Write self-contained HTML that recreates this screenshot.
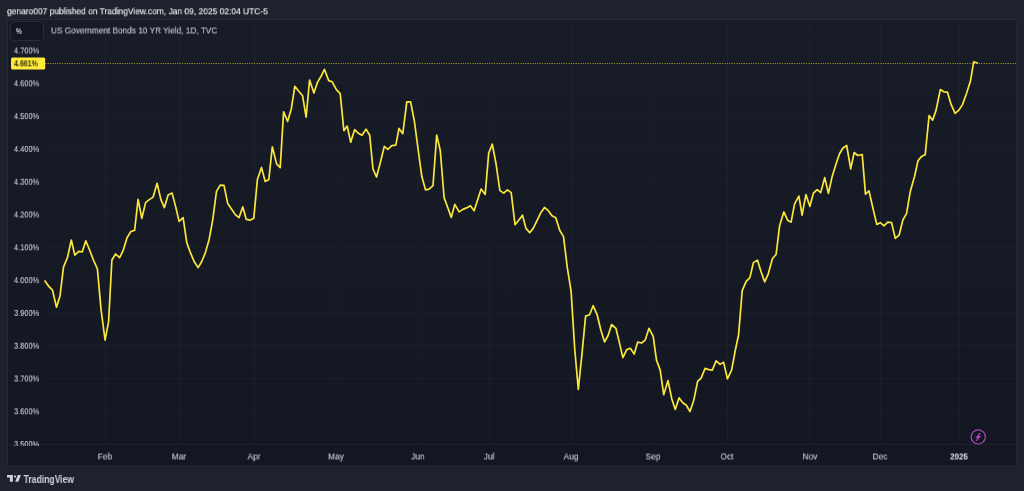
<!DOCTYPE html>
<html><head><meta charset="utf-8">
<style>
html,body{margin:0;padding:0;}
#hdr,.yl,.xl,#lg,#pl span,#pct span,#foot{will-change:transform;}
body{width:1024px;height:491px;background:#1e222d;overflow:hidden;position:relative;font-family:"Liberation Sans",sans-serif;}
#hdr{position:absolute;left:7px;top:5px;font-size:9.4px;line-height:12px;color:#e6e8ee;text-shadow:0 0 0.6px rgba(230,232,238,0.7);white-space:nowrap;transform:translateY(0.3px) scaleX(0.899);transform-origin:0 50%;}
svg{position:absolute;left:0;top:0;}
.yl{position:absolute;left:14px;font-size:9.5px;line-height:11px;color:#c1c4cd;text-shadow:0 0 0.6px rgba(193,196,205,0.6);white-space:nowrap;transform:scaleX(0.78);transform-origin:0 50%;}
.xl{position:absolute;top:451px;width:40px;margin-left:-20px;text-align:center;font-size:9.5px;line-height:12px;color:#c1c4cd;text-shadow:0 0 0.6px rgba(193,196,205,0.6);white-space:nowrap;transform:translateY(-0.5px) scaleX(0.88);}
.xl.b{font-weight:bold;color:#d1d4dc;transform:translateY(-0.5px) scaleX(0.84);}
#pct{position:absolute;left:10px;top:21px;width:32px;height:18px;border:1px solid #2a2e39;border-radius:4px;background:#131722;}
#pct span{position:absolute;left:5px;top:4px;font-size:9px;line-height:11px;color:#d1d4dc;font-weight:bold;transform:scaleX(0.72);transform-origin:0 50%;}
#lg{position:absolute;left:51px;top:25px;font-size:9.3px;line-height:12px;color:#c1c4cd;text-shadow:0 0 0.6px rgba(193,196,205,0.6);white-space:nowrap;transform:translateY(-0.5px) scaleX(0.888);transform-origin:0 50%;}
#pl{position:absolute;left:11px;top:57px;width:34px;height:12px;color:#3a3500;font-size:9.5px;line-height:12px;font-weight:bold;white-space:nowrap;}
#pl span{position:absolute;left:3px;top:0px;transform:translateY(0.3px) scaleX(0.74);transform-origin:0 50%;}
#clip{position:absolute;left:8px;top:20px;width:1008px;height:426px;overflow:hidden;}
#foot{position:absolute;left:24px;top:474px;font-size:9.6px;line-height:12px;color:#d1d4dc;font-weight:bold;white-space:nowrap;transform:translate(-0.4px,-0.7px) scale(0.895,1.06);transform-origin:0 50%;}
</style></head><body>
<div id="hdr">genaro007 published on TradingView.com, Jan 09, 2025 02:04 UTC-5</div>
<svg width="1024" height="491" viewBox="0 0 1024 491">
<defs><linearGradient id="bg" x1="0" y1="0" x2="0" y2="1"><stop offset="0" stop-color="#181c27"/><stop offset="1" stop-color="#131722"/></linearGradient></defs>
<rect x="7.5" y="19.5" width="1009.1" height="446.4" fill="url(#bg)" stroke="#272b36" stroke-width="1"/>
<g stroke="#2a2e39" stroke-opacity="0.32" stroke-width="1">
<line x1="45" x2="1016.1" y1="50.40" y2="50.40"/>
<line x1="45" x2="1016.1" y1="83.20" y2="83.20"/>
<line x1="45" x2="1016.1" y1="116.00" y2="116.00"/>
<line x1="45" x2="1016.1" y1="148.80" y2="148.80"/>
<line x1="45" x2="1016.1" y1="181.60" y2="181.60"/>
<line x1="45" x2="1016.1" y1="214.40" y2="214.40"/>
<line x1="45" x2="1016.1" y1="247.20" y2="247.20"/>
<line x1="45" x2="1016.1" y1="280.00" y2="280.00"/>
<line x1="45" x2="1016.1" y1="312.80" y2="312.80"/>
<line x1="45" x2="1016.1" y1="345.60" y2="345.60"/>
<line x1="45" x2="1016.1" y1="378.40" y2="378.40"/>
<line x1="45" x2="1016.1" y1="411.20" y2="411.20"/>
<line x1="105.5" x2="105.5" y1="20" y2="444"/>
<line x1="179.5" x2="179.5" y1="20" y2="444"/>
<line x1="254.5" x2="254.5" y1="20" y2="444"/>
<line x1="336.1" x2="336.1" y1="20" y2="444"/>
<line x1="418.25" x2="418.25" y1="20" y2="444"/>
<line x1="489.25" x2="489.25" y1="20" y2="444"/>
<line x1="571.4" x2="571.4" y1="20" y2="444"/>
<line x1="653.75" x2="653.75" y1="20" y2="444"/>
<line x1="727.5" x2="727.5" y1="20" y2="444"/>
<line x1="809.3" x2="809.3" y1="20" y2="444"/>
<line x1="880.4" x2="880.4" y1="20" y2="444"/>
<line x1="959.55" x2="959.55" y1="20" y2="444"/>
</g>
<line x1="8" x2="1016.1" y1="444.6" y2="444.6" stroke="#2a2e39" stroke-opacity="0.55" stroke-width="1"/>
<line x1="45.2" x2="1016.1" y1="63.5" y2="63.5" stroke="#ffeb3b" stroke-opacity="0.55" stroke-width="1" stroke-dasharray="1.2 1.2"/>
<polyline fill="none" stroke="#fbe73b" stroke-width="1.7" stroke-linejoin="round" stroke-linecap="round" points="45.0,280.9 48.8,286.4 52.5,290.1 56.5,307.2 60.0,295.9 63.5,267.1 67.6,257.1 71.3,240.0 74.8,255.1 78.8,251.3 82.3,251.8 85.8,240.8 89.6,250.0 93.4,260.0 97.4,268.8 101.1,310.2 105.1,340.2 108.6,321.4 111.9,260.0 115.6,254.0 119.6,257.7 123.1,250.7 127.0,237.8 130.8,231.6 134.6,230.3 138.1,199.4 141.8,218.4 145.6,202.6 149.3,199.6 153.1,197.1 157.1,183.3 160.9,199.6 164.4,207.6 168.1,195.1 172.1,193.1 175.6,206.4 179.1,221.4 183.1,217.7 186.8,242.8 190.5,252.9 194.3,261.8 198.1,267.6 201.5,262.0 205.2,253.2 209.0,240.0 212.7,220.2 216.5,191.4 220.2,185.1 224.0,185.3 227.7,203.4 231.5,208.9 235.3,214.6 239.0,217.7 242.8,206.9 246.3,219.4 250.0,220.2 253.8,218.2 257.4,179.5 261.5,167.4 265.2,181.5 268.8,179.6 272.3,146.8 276.6,163.9 280.2,167.6 283.6,111.9 287.6,121.4 291.3,108.9 294.8,86.3 298.8,91.3 302.6,95.8 306.1,117.1 309.6,80.0 313.9,93.1 317.6,82.1 321.1,76.3 324.4,69.3 328.7,80.6 332.2,81.8 336.4,89.6 340.2,93.6 343.9,130.7 347.2,126.1 350.7,142.2 354.7,129.6 358.2,133.2 362.0,135.2 366.0,129.1 369.7,135.2 373.0,169.0 376.5,177.0 380.3,162.7 384.3,146.4 387.8,149.4 391.8,145.7 395.8,145.2 399.0,128.4 402.8,133.7 406.8,101.8 410.6,101.8 414.4,121.4 418.2,150.0 421.8,176.3 425.5,189.9 429.0,189.1 433.0,185.6 436.7,135.1 440.3,150.8 444.1,197.6 447.8,207.7 451.3,217.4 454.8,204.4 459.1,211.9 462.9,209.4 466.6,207.9 470.4,205.7 474.1,210.7 477.6,200.1 481.1,189.1 485.2,194.4 488.7,153.1 492.3,144.1 496.0,163.5 499.9,190.6 503.7,193.1 507.4,189.9 511.2,192.6 515.0,224.7 518.7,220.2 522.5,215.2 526.0,228.4 529.7,232.7 533.2,228.4 537.0,220.7 540.8,212.7 544.5,207.4 548.3,210.7 552.0,215.7 555.8,217.7 559.7,230.3 563.5,236.6 567.3,267.6 571.1,291.4 574.8,350.0 578.3,389.4 582.1,352.6 585.6,316.1 589.6,314.7 593.1,305.7 597.1,314.7 600.9,330.3 604.6,341.9 608.1,335.5 611.6,324.5 615.9,328.3 619.4,342.6 622.9,357.6 626.7,349.6 630.4,348.3 634.2,354.1 637.7,342.1 641.5,343.0 645.2,340.1 649.0,328.3 653.2,336.4 656.5,360.1 660.2,370.1 663.7,394.7 668.0,380.6 671.8,398.9 675.3,409.4 679.0,397.9 682.8,402.7 686.3,405.2 690.0,411.5 693.8,400.2 697.6,381.4 701.1,378.1 705.1,368.4 708.8,369.6 712.3,370.1 716.1,360.9 720.1,364.4 723.6,362.1 727.4,378.9 731.6,370.1 735.1,351.3 738.6,334.8 742.2,290.6 746.2,281.4 749.9,277.6 753.4,262.6 757.4,260.1 760.9,271.3 764.7,281.9 768.2,274.1 772.5,258.5 776.1,254.5 779.6,225.7 783.8,211.9 787.6,220.2 791.1,222.2 794.6,203.9 798.9,196.1 802.1,215.2 805.9,194.6 809.9,206.4 813.4,193.1 817.2,189.6 820.7,192.6 824.7,177.6 828.4,193.4 831.9,177.6 835.7,165.1 839.5,153.8 843.0,148.0 846.7,145.5 850.7,168.8 854.2,152.5 857.7,155.5 862.2,154.5 865.5,194.1 869.0,190.9 872.8,207.6 876.8,224.4 880.3,222.7 884.0,225.9 887.8,222.2 891.6,222.7 895.3,238.4 899.1,235.2 902.8,220.2 906.6,213.4 910.3,191.4 914.6,176.3 918.0,160.7 921.4,156.6 925.2,154.7 929.1,115.6 932.6,120.2 936.1,110.1 940.3,89.6 943.9,91.8 947.4,92.1 951.1,104.4 955.1,113.4 958.9,110.1 962.6,104.4 966.4,93.8 970.4,81.3 973.7,61.8 977.4,63.0"/>
<rect x="11.05" y="57.55" width="34.15" height="11.95" rx="1.5" fill="#ffeb3b"/>
<circle cx="978.25" cy="436.9" r="7.1" fill="none" stroke="#ab47bc" stroke-width="1.2"/>
<path d="M979.5 433 L980.9 433 L978.9 436.1 L981 436.1 L976.9 441 L975.6 441 L977.5 437.9 L975.3 437.9 Z" fill="#ab47bc"/>
<g fill="#d1d4dc"><path d="M7 475 H12.9 V481.8 H9.9 V477.6 H7 Z"/><circle cx="15.05" cy="476.6" r="1.15"/><path d="M17.8 475 H20.9 L18.3 481.8 H15.2 Z"/></g>
</svg>
<div id="clip">
<div class="yl" style="left:6px;top:24px;transform:translateY(0.50px) scaleX(0.78)">4.700%</div>
<div class="yl" style="left:6px;top:57px;transform:translateY(0.30px) scaleX(0.78)">4.600%</div>
<div class="yl" style="left:6px;top:90px;transform:translateY(0.10px) scaleX(0.78)">4.500%</div>
<div class="yl" style="left:6px;top:122px;transform:translateY(0.90px) scaleX(0.78)">4.400%</div>
<div class="yl" style="left:6px;top:155px;transform:translateY(0.70px) scaleX(0.78)">4.300%</div>
<div class="yl" style="left:6px;top:188px;transform:translateY(0.50px) scaleX(0.78)">4.200%</div>
<div class="yl" style="left:6px;top:221px;transform:translateY(0.30px) scaleX(0.78)">4.100%</div>
<div class="yl" style="left:6px;top:254px;transform:translateY(0.10px) scaleX(0.78)">4.000%</div>
<div class="yl" style="left:6px;top:286px;transform:translateY(0.90px) scaleX(0.78)">3.900%</div>
<div class="yl" style="left:6px;top:319px;transform:translateY(0.70px) scaleX(0.78)">3.800%</div>
<div class="yl" style="left:6px;top:352px;transform:translateY(0.50px) scaleX(0.78)">3.700%</div>
<div class="yl" style="left:6px;top:385px;transform:translateY(0.30px) scaleX(0.78)">3.600%</div>
<div class="yl" style="left:6px;top:418px;transform:translateY(0.10px) scaleX(0.78)">3.500%</div>
</div>
<div class="xl" style="left:104.75px">Feb</div>
<div class="xl" style="left:179.1px">Mar</div>
<div class="xl" style="left:253.9px">Apr</div>
<div class="xl" style="left:335.9px">May</div>
<div class="xl" style="left:418.4px">Jun</div>
<div class="xl" style="left:489.25px">Jul</div>
<div class="xl" style="left:570.9px">Aug</div>
<div class="xl" style="left:652.9px">Sep</div>
<div class="xl" style="left:727.25px">Oct</div>
<div class="xl" style="left:809.9px">Nov</div>
<div class="xl" style="left:880.1px">Dec</div>
<div class="xl b" style="left:958.75px">2025</div>
<div id="pct"><span>%</span></div>
<div id="lg">US Government Bonds 10 YR Yield, 1D, TVC</div>
<div id="pl"><span>4.661%</span></div>
<div id="foot">TradingView</div>
</body></html>
